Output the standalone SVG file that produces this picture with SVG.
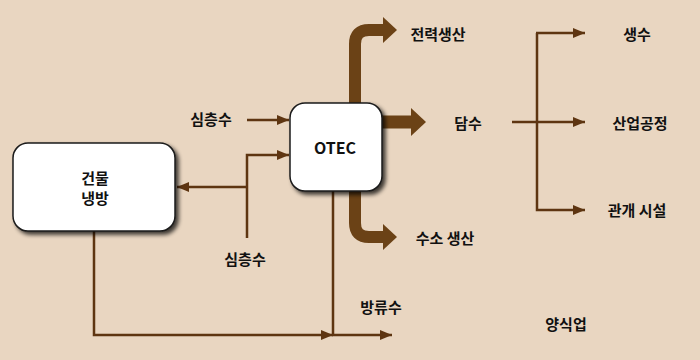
<svg xmlns="http://www.w3.org/2000/svg" width="700" height="360" viewBox="0 0 700 360">
<defs>
<filter id="sh" x="-20%" y="-20%" width="150%" height="150%">
<feGaussianBlur in="SourceAlpha" stdDeviation="2"/>
<feOffset dx="3" dy="3" result="b"/>
<feComponentTransfer><feFuncA type="linear" slope="0.75"/></feComponentTransfer>
<feMerge><feMergeNode/><feMergeNode in="SourceGraphic"/></feMerge>
</filter>
<marker id="ah" markerWidth="12" markerHeight="10" refX="12" refY="5" orient="auto" markerUnits="userSpaceOnUse">
<path d="M0,0 L12,5 L0,10 Z" fill="#5E3511"/>
</marker>
</defs>
<style>
text{font-family:"Noto Sans CJK KR","Noto Sans",sans-serif;font-weight:bold;font-size:15px;fill:#111;dominant-baseline:central}
.box{fill:#fff;stroke:#1a1a1a;stroke-width:1.5;filter:url(#sh)}
.thin{fill:none;stroke:#5E3511;stroke-width:2.5}
.thick{fill:none;stroke:#6B4216}
.head{fill:#6B4216}
</style>
<rect width="700" height="360" fill="#E9D6C1"/>
<g id="connectors">
<path class="thick" stroke-width="12" d="M355,104 V44 Q355,30 369,30 H385"/>
<polygon class="head" points="383,17 397,30 383,43"/>
<path class="thick" stroke-width="13" d="M380,122 H413"/>
<polygon class="head" points="411,108 426,122 411,136"/>
<path class="thick" stroke-width="12" d="M355,190 V223 Q355,237 369,237 H385"/>
<polygon class="head" points="383,224 397,237 383,250"/>
<path class="thin" d="M247,120 H289" marker-end="url(#ah)"/>
<path class="thin" d="M247,238 V155 H289" marker-end="url(#ah)"/>
<path class="thin" d="M247,187 H177" marker-end="url(#ah)"/>
<path class="thin" d="M94,231 V335 H333" marker-end="url(#ah)"/>
<path class="thin" d="M333,191 V335 H392" marker-end="url(#ah)"/>
<path class="thin" d="M512,122 H585" marker-end="url(#ah)"/>
<path class="thin" d="M537,33 V210 H585" marker-end="url(#ah)"/>
<path class="thin" d="M536,33 H585" marker-end="url(#ah)"/>
</g>
<g id="building">
<rect class="box" x="13" y="143" width="162" height="88" rx="15"/>
<text x="95" y="177" text-anchor="middle">건물</text>
<text x="95" y="197" text-anchor="middle">냉방</text>
</g>
<g id="otec">
<rect class="box" x="290" y="103" width="92" height="88" rx="15"/>
<text x="335" y="147" text-anchor="middle" style="font-size:16px">OTEC</text>
</g>
<g id="labels">
<text x="211" y="118" text-anchor="middle">심층수</text>
<text x="245" y="258" text-anchor="middle">심층수</text>
<text x="438" y="33" text-anchor="middle">전력생산</text>
<text x="468" y="122" text-anchor="middle">담수</text>
<text x="445" y="237" text-anchor="middle">수소 생산</text>
<text x="381" y="306" text-anchor="middle">방류수</text>
<text x="566" y="323" text-anchor="middle">양식업</text>
<text x="637" y="33" text-anchor="middle">생수</text>
<text x="640" y="122" text-anchor="middle">산업공정</text>
<text x="637" y="209" text-anchor="middle">관개 시설</text>
</g>
</svg>
